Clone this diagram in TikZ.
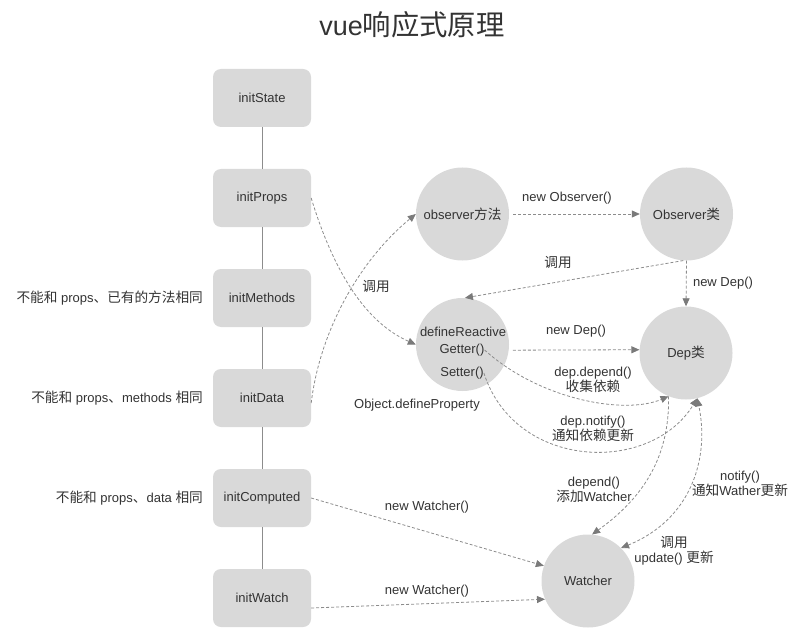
\documentclass[tikz,border=0pt]{standalone}
\usepackage{fontspec}
\setmainfont{Liberation Sans}
\newfontfamily\cjk[Scale=1.05]{Noto Sans CJK SC}
\usetikzlibrary{arrows.meta}
\definecolor{boxfill}{HTML}{D9D9D9}
\definecolor{txt}{HTML}{333333}
\definecolor{ln}{HTML}{8C8C8C}
\definecolor{arr}{HTML}{7A7A7A}
\begin{document}
\begin{tikzpicture}[x=1pt,y=-1pt,
  every node/.style={text=txt, font=\fontsize{13}{15}\selectfont},
  initbox/.style={fill=boxfill, rounded corners=8pt, minimum width=98pt, minimum height=58pt, inner sep=0pt},
  bubble/.style={circle, fill=boxfill, minimum size=93pt, inner sep=0pt},
  lbl/.style={inner sep=0pt, align=center},
  link/.style={draw=ln, line width=0.8pt},
  flow/.style={draw=ln, line width=0.8pt, dash pattern=on 3pt off 2pt, -{Triangle[length=8pt,width=7pt,color=arr]}},
  flowboth/.style={draw=ln, line width=0.8pt, dash pattern=on 3pt off 2pt, {Triangle[length=8pt,width=7pt,color=arr]}-{Triangle[length=8pt,width=7pt,color=arr]}}
]
\useasboundingbox (0,0) rectangle (791,628);

% title
\node[font=\fontsize{27}{30}\selectfont] (title) at (412,25) {vue{\cjk 响应式原理}};

% init boxes
\node[initbox] (istate) at (262,98) {initState};
\node[initbox] (iprops) at (262,198) {initProps};
\node[initbox] (imeth) at (262,298) {initMethods};
\node[initbox] (idata) at (262,398) {initData};
\node[initbox] (icomp) at (262,498) {initComputed};
\node[initbox] (iwatch) at (262,598) {initWatch};

\draw[link] (istate) -- (iprops);
\draw[link] (iprops) -- (imeth);
\draw[link] (imeth) -- (idata);
\draw[link] (idata) -- (icomp);
\draw[link] (icomp) -- (iwatch);

% left notes
\node[lbl, anchor=east] (n1) at (203,298) {{\cjk 不能和} props{\cjk 、已有的方法相同}};
\node[lbl, anchor=east] (n2) at (203,398) {{\cjk 不能和} props{\cjk 、}methods {\cjk 相同}};
\node[lbl, anchor=east] (n3) at (203,498) {{\cjk 不能和} props{\cjk 、}data {\cjk 相同}};

% circles
\node[bubble] (om) at (462.5,214) {observer{\cjk 方法}};
\node[bubble] (obs) at (686.5,214) {Observer{\cjk 类}};
\node[bubble] (dr) at (462.5,344.5) {};
\node[lbl] (drt) at (463,332) {defineReactive};
\node[lbl] (getter) at (462,350) {Getter()};
\node[lbl] (setter) at (462,373) {Setter()};
\node[bubble] (dep) at (686,353) {Dep{\cjk 类}};
\node[bubble] (wat) at (588,581) {Watcher};

% labels
\node[lbl] (l1) at (567,198) {new Observer()};
\node[lbl] (l2) at (558,262) {\cjk 调用};
\node[lbl] (l3) at (723,283) {new Dep()};
\node[lbl] (l4) at (576,331) {new Dep()};
\node[lbl] (l5) at (376,286) {\cjk 调用};
\node[lbl] (l6) at (417,405) {Object.defineProperty};
\node[lbl] (l7) at (593,379.5) {dep.depend()\\{\cjk 收集依赖}};
\node[lbl] (l8) at (593,428.5) {dep.notify()\\{\cjk 通知依赖更新}};
\node[lbl] (l9) at (594,489.5) {depend()\\{\cjk 添加}Watcher};
\node[lbl] (l10) at (740,484) {notify()\\{\cjk 通知}Wather{\cjk 更新}};
\node[lbl] (l11) at (674,551) {{\cjk 调用}\\update() {\cjk 更新}};
\node[lbl] (l12) at (427,507) {new Watcher()};
\node[lbl] (l13) at (427,591) {new Watcher()};

% connectors
\draw[flow] (iprops.east) .. controls (330,260) and (360,320) .. (dr.west);
\draw[flow] ([yshift=-5pt]idata.east) .. controls (320,330) and (360,260) .. (om.west);
\draw[flow, shorten <=4pt] (om) -- (obs);
\draw[flow] (obs.-94) -- (dr.87);
\draw[flow] (obs.south) -- (dep.north);
\draw[flow, shorten <=4pt] (dr.-7) -- (dep.176);
\draw[flow] (getter.east) .. controls (540,400) and (625,415) .. (dep.-112);
\draw[flow] (setter.east) .. controls (515,470) and (650,475) .. (dep.-76);
\draw[flow] (dep.-112) .. controls (670,460) and (640,500) .. (wat.85);
\draw[flowboth] (wat.45) .. controls (690,520) and (710,460) .. (dep.-76);
\draw[flow] (icomp.east) -- (wat.161);
\draw[flow] ([yshift=-10pt]iwatch.east) -- (wat.-157);
\end{tikzpicture}
\end{document}
